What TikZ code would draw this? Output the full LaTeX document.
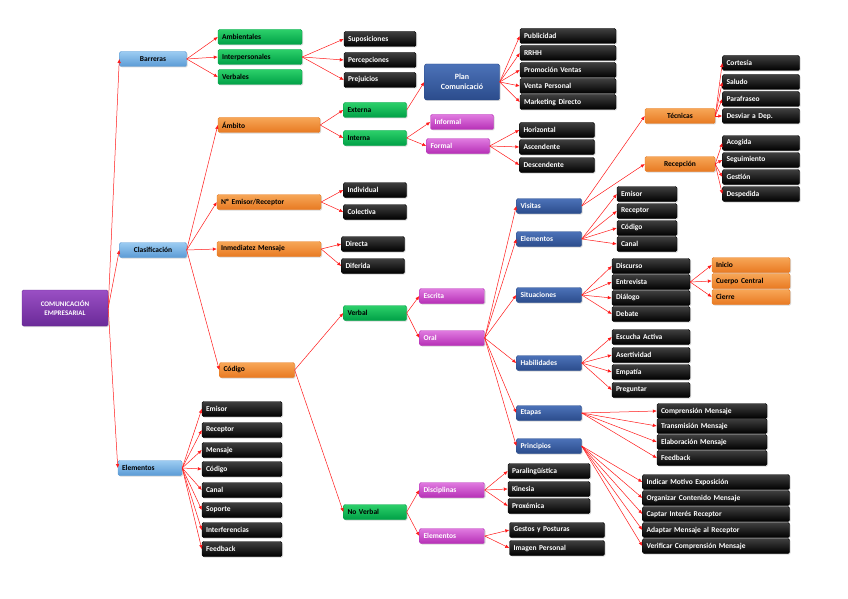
\documentclass[tikz,border=0pt]{standalone}
\usepackage{fontspec}
\setmainfont{Carlito}
\usetikzlibrary{arrows.meta,shadows}
\definecolor{gA}{HTML}{2CD06A}\definecolor{gB}{HTML}{00A046}
\definecolor{lA}{HTML}{9CCCF2}\definecolor{lB}{HTML}{5B9BD5}
\definecolor{dA}{HTML}{4C72B8}\definecolor{dB}{HTML}{2B4C8C}
\definecolor{oA}{HTML}{F7A657}\definecolor{oB}{HTML}{E87A22}
\definecolor{mA}{HTML}{E07BE0}\definecolor{mB}{HTML}{B62FB6}
\definecolor{pA}{HTML}{9A4FC4}\definecolor{pB}{HTML}{6A2A98}
\begin{document}
\begin{tikzpicture}[x=1pt,y=-1pt,
 base/.style={rounded corners=1.5pt,font=\bfseries\fontsize{7.5}{8}\selectfont,minimum height=15pt,inner xsep=4pt,inner ysep=1pt,align=left,drop shadow={shadow xshift=1pt,shadow yshift=-1pt,opacity=.3}},
 w/.style={text width=#1-8},
 bk/.style={base,w=#1,top color=black!75,bottom color=black,draw=black,text=white},
 gr/.style={base,w=#1,top color=gA,bottom color=gB,draw=gB,text=black},
 og/.style={base,w=#1,top color=oA,bottom color=oB,draw=oB,text=black},
 bl/.style={base,w=#1,top color=lA,bottom color=lB,draw=lB,text=black},
 db/.style={base,w=#1,top color=dA,bottom color=dB,draw=dB,text=white},
 mg/.style={base,w=#1,top color=mA,bottom color=mB,draw=mB,text=white},
 a/.style={draw=red!90,line width=0.5pt,-{Latex[length=4pt,width=3.5pt]}}]
\useasboundingbox (0,0) rectangle (848,599);
\node[base,text width=78,align=center,minimum height=36,top color=pA,bottom color=pB,draw=pB,text=white,font=\bfseries\fontsize{7}{8.5}\selectfont] (root) at (65,308) {COMUNICACIÓN EMPRESARIAL};
\node[bl=67,align=center] (bar) at (153,59) {Barreras};
\node[bl=67,align=center] (cla) at (153,250) {Clasificación};
\node[bl=64] (ele) at (150,468) {Elementos};
\node[gr=84] (amb) at (260,37) {Ambientales};
\node[gr=84] (int) at (260,57) {Interpersonales};
\node[gr=84] (ver) at (260,77) {Verbales};
\node[bk=72] (sup) at (380,39) {Suposiciones};
\node[bk=72] (per) at (380,60) {Percepciones};
\node[bk=72] (pre) at (380,80) {Prejuicios};
\node[og=102] (amt) at (269,125) {Ámbito};
\node[og=104] (nem) at (269,202) {Nº Emisor/Receptor};
\node[og=104] (inm) at (269,249) {Inmediatez Mensaje};
\node[og=75] (cod) at (257,370) {Código};
\node[gr=63] (ext) at (375,110) {Externa};
\node[gr=63] (inn) at (375,138) {Interna};
\node[db=75,align=center,minimum height=36,font=\bfseries\fontsize{8}{10}\selectfont] (plan) at (462,82) {Plan\\Comunicació};
\node[bk=96] (pub) at (568,36) {Publicidad};
\node[bk=96] (rrhh) at (568,53) {RRHH};
\node[bk=96] (pro) at (568,70) {Promoción Ventas};
\node[bk=96] (ven) at (568,86) {Venta Personal};
\node[bk=96] (mar) at (568,102) {Marketing Directo};
\node[mg=63] (inf) at (462,122) {Informal};
\node[mg=63] (for) at (458,146) {Formal};
\node[bk=75] (hor) at (557,130) {Horizontal};
\node[bk=75] (asc) at (557,147) {Ascendente};
\node[bk=75] (des) at (557,165) {Descendente};
\node[bk=63] (ind) at (375,190) {Individual};
\node[bk=63] (col) at (375,212) {Colectiva};
\node[bk=63] (dir) at (373,244) {Directa};
\node[bk=63] (dif) at (373,266) {Diferida};
\node[gr=63] (vb) at (375,313) {Verbal};
\node[gr=63] (nv) at (375,512) {No Verbal};
\node[mg=65] (esc) at (452,296) {Escrita};
\node[mg=65] (ora) at (452,338) {Oral};
\node[db=65] (vis) at (549,206) {Visitas};
\node[db=65] (elo) at (549,239) {Elementos};
\node[db=65] (sit) at (549,295) {Situaciones};
\node[db=65] (hab) at (549,363) {Habilidades};
\node[db=65] (eta) at (549,413) {Etapas};
\node[db=65] (pri) at (549,446) {Principios};
\node[og=70,align=center] (tec) at (680,116) {Técnicas};
\node[og=70,align=center] (rec) at (680,164) {Recepción};
\node[bk=77] (t1) at (761,63) {Cortesía};
\node[bk=77] (t2) at (761,82) {Saludo};
\node[bk=77] (t3) at (761,99) {Parafraseo};
\node[bk=77] (t4) at (761,116) {Desviar a Dep.};
\node[bk=77] (r1) at (761,143) {Acogida};
\node[bk=77] (r2) at (761,160) {Seguimiento};
\node[bk=77] (r3) at (761,177) {Gestión};
\node[bk=77] (r4) at (761,194) {Despedida};
\node[bk=60] (e1) at (647,194) {Emisor};
\node[bk=60] (e2) at (647,211) {Receptor};
\node[bk=60] (e3) at (647,228) {Código};
\node[bk=60] (e4) at (647,244) {Canal};
\node[bk=78] (s1) at (651,266) {Discurso};
\node[bk=78] (s2) at (651,282) {Entrevista};
\node[bk=78] (s3) at (651,298) {Diálogo};
\node[bk=78] (s4) at (651,314) {Debate};
\node[og=78] (i1) at (751,265) {Inicio};
\node[og=78] (i2) at (751,281) {Cuerpo Central};
\node[og=78] (i3) at (751,297) {Cierre};
\node[bk=78] (h1) at (651,337) {Escucha Activa};
\node[bk=78] (h2) at (651,355) {Asertividad};
\node[bk=78] (h3) at (651,372) {Empatía};
\node[bk=78] (h4) at (651,390) {Preguntar};
\node[bk=110] (et1) at (712,411) {Comprensión Mensaje};
\node[bk=110] (et2) at (712,426) {Transmisión Mensaje};
\node[bk=110] (et3) at (712,442) {Elaboración Mensaje};
\node[bk=110] (et4) at (712,458) {Feedback};
\node[bk=147] (p1) at (716,482) {Indicar Motivo Exposición};
\node[bk=147] (p2) at (716,498) {Organizar Contenido Mensaje};
\node[bk=147] (p3) at (716,514) {Captar Interés Receptor};
\node[bk=147] (p4) at (716,530) {Adaptar Mensaje al Receptor};
\node[bk=147] (p5) at (716,546) {Verificar Comprensión Mensaje};
\node[mg=65] (dis) at (452,490) {Disciplinas};
\node[mg=65] (eln) at (452,536) {Elementos};
\node[bk=82] (d1) at (549,471) {Paralingüística};
\node[bk=82] (d2) at (549,489) {Kinesia};
\node[bk=82] (d3) at (549,506) {Proxémica};
\node[bk=95] (g1) at (557,530) {Gestos y Posturas};
\node[bk=95] (g2) at (557,548) {Imagen Personal};
\node[bk=80] (x1) at (242,409) {Emisor};
\node[bk=80] (x2) at (242,430) {Receptor};
\node[bk=80] (x3) at (242,450) {Mensaje};
\node[bk=80] (x4) at (242,469) {Código};
\node[bk=80] (x5) at (242,490) {Canal};
\node[bk=80] (x6) at (242,510) {Soporte};
\node[bk=80] (x7) at (242,530) {Interferencias};
\node[bk=80] (x8) at (242,549) {Feedback};
\foreach \p/\cs in {root/{bar,cla,ele},bar/{amb,int,ver},int/{sup,per,pre},cla/{amt,nem,inm,cod},
 amt/{ext,inn},ext/{plan},plan/{pub,rrhh,pro,ven,mar},inn/{inf,for},for/{hor,asc,des},
 nem/{ind,col},inm/{dir,dif},cod/{vb,nv},vb/{esc,ora},ora/{vis,elo,sit,hab,eta,pri},
 vis/{tec,rec},tec/{t1,t2,t3,t4},rec/{r1,r2,r3,r4},elo/{e1,e2,e3,e4},sit/{s1,s2,s3,s4},
 s2/{i1,i2,i3},hab/{h1,h2,h3,h4},eta/{et1,et2,et3,et4},pri/{p1,p2,p3,p4,p5},
 nv/{dis,eln},dis/{d1,d2,d3},eln/{g1,g2},ele/{x1,x2,x3,x4,x5,x6,x7,x8}}
 {\foreach \c in \cs {\draw[a] (\p.east) -- (\c.west);}}
\end{tikzpicture}
\end{document}
